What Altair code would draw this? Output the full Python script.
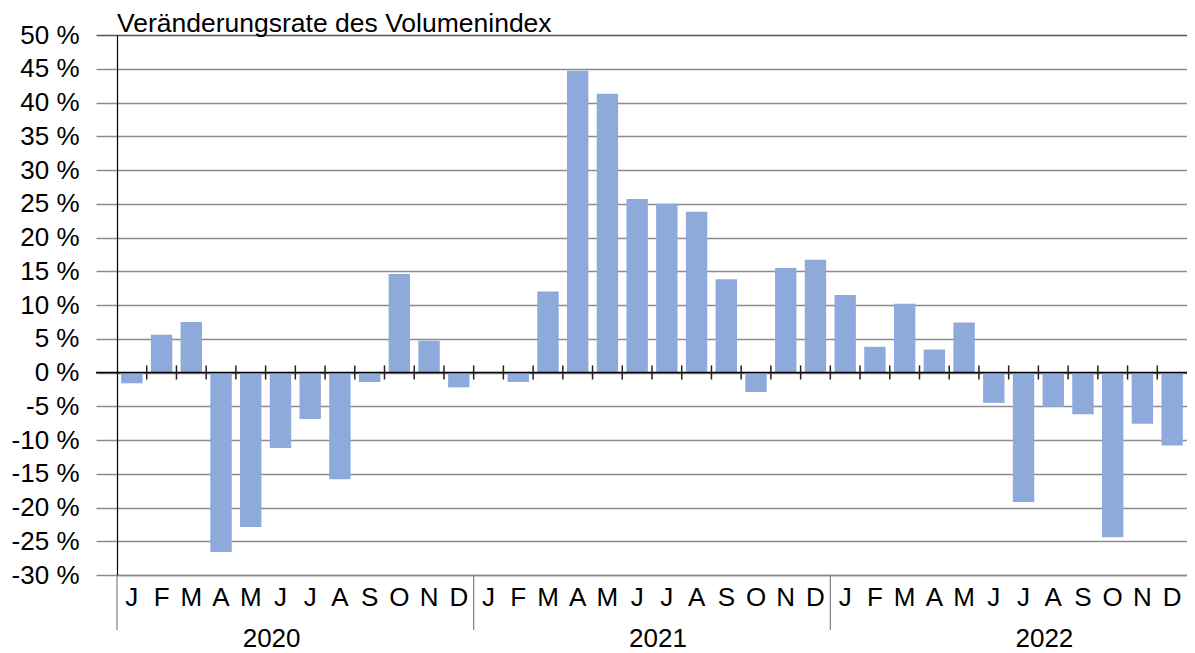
import altair as alt
import pandas as pd

TITLE = "Veränderungsrate des Volumenindex"
MONTHS = ["J", "F", "M", "A", "M", "J", "J", "A", "S", "O", "N", "D"]
YEARS = ["2020", "2021", "2022"]
V2020 = [-1.6, 5.6, 7.5, -26.6, -22.9, -11.2, -6.9, -15.8, -1.4, 14.6, 4.7, -2.2]
V2021 = [-0.2, -1.4, 12.0, 44.7, 41.3, 25.7, 25.0, 23.8, 13.8, -2.9, 15.5, 16.7]
V2022 = [11.5, 3.8, 10.2, 3.4, 7.4, -4.5, -19.2, -5.1, -6.2, -24.4, -7.6, -10.8]
YEAR_ANCHOR = [5, 18, 31]  # month index under which the year label sits

W, H = 1070, 540
PAD_L, PAD_T, PAD_B = 109, 27, 80
FONT = "Liberation Sans, Arial, sans-serif"
FS = 26
BAR = "#8EAADB"
GRID = "#8c8c8c"

vals = V2020 + V2021 + V2022
df = pd.DataFrame({"idx": list(range(len(vals))), "val": vals})
ticks = pd.DataFrame({"b": list(range(1, 36))})
seps = pd.DataFrame({"b": [0, 12, 24]})
years = pd.DataFrame({"year": YEARS, "pos": YEAR_ANCHOR})

month_js = "[" + ",".join("'%s'" % m for m in MONTHS) + "]"
qx = alt.Scale(domain=[0, 36], nice=False, zero=False)
yscale = alt.Scale(domain=[-30, 50], nice=False)

y_axis = alt.Axis(title=None, values=list(range(-30, 55, 5)),
                  labelExpr="datum.value + ' %'",
                  labelFont=FONT, labelFontSize=FS, labelColor="black",
                  labelPadding=17, tickSize=21, labelOverlap=False,
                  tickColor={"condition": {"test": "datum.value === 50", "value": "#555555"}, "value": GRID},
                  gridColor={"condition": {"test": "datum.value === 50", "value": "#555555"}, "value": GRID},
                  gridWidth=1.5, tickWidth=1.5,
                  domainColor="black", domainWidth=1.2)

bars = alt.Chart(df).mark_bar(color=BAR).encode(
    x=alt.X("idx:O",
            scale=alt.Scale(paddingInner=0.28, paddingOuter=0.14),
            axis=alt.Axis(title=None, labelAngle=0, ticks=False, grid=False,
                          labelExpr=month_js + "[datum.value % 12]",
                          labelFont=FONT, labelFontSize=FS, labelColor="black",
                          labelPadding=9, labelOverlap=False,
                          domainColor=GRID, domainWidth=1.5)),
    y=alt.Y("val:Q", scale=yscale, axis=y_axis),
)

zero = alt.Chart(df.head(1)).mark_rule(color="black", strokeWidth=1.5).encode(
    x=alt.value(-21), x2=alt.value(W), y=alt.YDatum(0, axis=y_axis, scale=yscale))

cross = alt.Chart(ticks).mark_rule(color="#222222", strokeWidth=1.5).encode(
    x=alt.X("b:Q", scale=qx, axis=None),
    y=alt.YDatum(-1.05, axis=y_axis, scale=yscale), y2=alt.datum(1.05))

sep = alt.Chart(seps).mark_rule(color="#808080", strokeWidth=1.2).encode(
    x=alt.X("b:Q", scale=qx, axis=None),
    y=alt.value(H), y2=alt.value(H + 55))

year_txt = alt.Chart(years).mark_text(font=FONT, fontSize=FS, color="black",
                                      baseline="alphabetic", dx=6).encode(
    x=alt.X("pos:Q", scale=qx, axis=None),
    y=alt.value(H + 72), text="year:N")

title = alt.Chart(pd.DataFrame({"t": [TITLE]})).mark_text(
    font=FONT, fontSize=26.5, color="black", align="left", baseline="alphabetic").encode(
    x=alt.value(0), y=alt.value(-3), text="t:N")

chart = alt.layer(bars, zero, cross, sep, year_txt, title).resolve_scale(
    x="independent").properties(
    width=W, height=H,
    autosize=alt.AutoSizeParams(type="none"),
    padding={"left": PAD_L, "top": PAD_T, "right": 0, "bottom": PAD_B},
).configure_view(stroke=None).configure(background="white")

chart.save("out.html", embed_options={"renderer": "svg", "actions": False})
